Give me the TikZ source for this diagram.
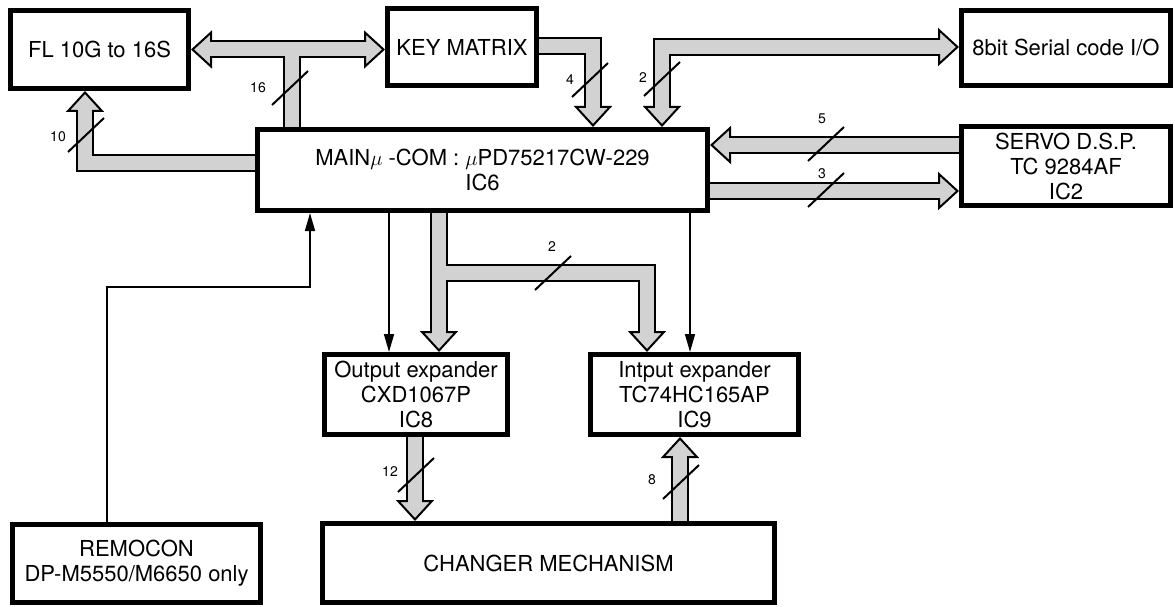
\documentclass[tikz,border=0pt]{standalone}
\usepackage{fontspec}
\setmainfont{TeX Gyre Heros}
\usetikzlibrary{arrows.meta,positioning}

\colorlet{busgray}{gray!35}
\tikzset{
  box/.style={draw, line width=5pt, align=center, inner sep=2pt, font=\fontsize{22}{25}\selectfont},
  lbl/.style={font=\fontsize{14}{16}\selectfont, inner sep=0pt},
  slash/.style={line width=2pt},
  thinarr/.style={line width=1.6pt, -{Triangle[length=18pt,width=10pt]}},
  bushead/.tip={Triangle[length=21pt,width=38pt,line width=2pt,fill=busgray]},
  busedge/.style={line width=18pt, black, line join=miter,
    tipE/.style={-{bushead}}, tipS/.style={{bushead}-}, tipSE/.style={{bushead}-{bushead}}},
  busfill/.style={line width=14pt, busgray, line join=miter,
    tipE/.style={shorten >=18pt}, tipS/.style={shorten <=18pt},
    tipSE/.style={shorten >=18pt, shorten <=18pt}},
}

% all bus routes, drawn once as edge and once as fill
\newcommand\buspaths{%
  \draw[tipSE] (fl.east) -- (fl.east -| key.west);
  \draw (fl.east -| c16) -- (c16 |- main.north);
  \draw[tipE] (main.west |- c10) -- (c10) -- (c10 |- fl.south);
  \draw[tipE] (key.east |- c4) -- (c4) -- (c4 |- main.north);
  \draw[tipSE] (c2 |- main.north) -- (c2) -- (ser.west |- c2);
  \draw[tipE] (servo.west |- c5) -- (main.east |- c5);
  \draw[tipE] (main.east |- c3) -- (servo.west |- c3);
  \draw[tipE] (cb |- main.south) -- (cb |- outx.north);
  \draw[tipE] (cb) -- (cb2) -- (cb2 |- inx.north);
  \draw[tipE] (c12 |- outx.south) -- (c12 |- chg.north);
  \draw[tipE] (c8 |- chg.north) -- (c8 |- inx.south);
}

\begin{document}
\begin{tikzpicture}[x=1pt,y=-1pt]
    \useasboundingbox (0,0) rectangle (1175,607);

    % Blocks
    \node[box, minimum width=178pt, minimum height=78pt] (fl) at (99.5,49.5) {FL 10G to 16S};
    \node[box, minimum width=149pt, minimum height=77pt] (key) at (462,47) {KEY MATRIX};
    \node[box, minimum width=209pt, minimum height=75pt] (ser) at (1066,48) {8bit Serial code I/O};
    \node[box, minimum width=450pt, minimum height=81pt] (main) at (482.5,170)
        {MAIN$\mu$ -COM : $\mu$PD75217CW-229\\IC6};
    \node[box, minimum width=209pt, minimum height=79pt] (servo) at (1066,166)
        {SERVO D.S.P.\\TC 9284AF\\IC2};
    \node[box, minimum width=183pt, minimum height=80pt] (outx) at (416,394.5)
        {Output expander\\CXD1067P\\IC8};
    \node[box, minimum width=208pt, minimum height=80pt] (inx) at (694.5,394.5)
        {Intput expander\\TC74HC165AP\\IC9};
    \node[box, minimum width=248pt, minimum height=78pt] (remo) at (136.5,563.5)
        {REMOCON\\DP-M5550/M6650 only};
    \node[box, minimum width=452pt, minimum height=79pt] (chg) at (548.5,563) {CHANGER MECHANISM};

    % Bus corners
    \coordinate (c16) at (292,49.5);
    \coordinate (c10) at (85,163);
    \coordinate (c4) at (593,46);
    \coordinate (c2) at (662,47);
    \coordinate (c5) at (0,145);
    \coordinate (c3) at (0,191);
    \coordinate (cb) at (439,273);
    \coordinate (cb2) at (647,273);
    \coordinate (c12) at (415,0);
    \coordinate (c8) at (680,0);

    % Buses
    \begin{scope}[busedge] \buspaths \end{scope}
    \begin{scope}[busfill] \buspaths \end{scope}

    % Bus widths
    \foreach \x/\y in {290/88, 86/135, 590/80, 662/79, 826/144, 826/190, 553/273, 416/475, 681/482} {
        \draw[slash] (\x,\y) +(-18,17) -- +(18,-17);
    }
    \node[lbl] (n16) at (258,88) {16};
    \node[lbl] (n10) at (58,137) {10};
    \node[lbl] (n4) at (570,80) {4};
    \node[lbl] (n2a) at (643,78) {2};
    \node[lbl] (n5) at (822,119) {5};
    \node[lbl] (n3) at (822,174) {3};
    \node[lbl] (n2b) at (552,247) {2};
    \node[lbl] (n12) at (390,472) {12};
    \node[lbl] (n8) at (652,480) {8};

    % Single lines
    \coordinate (t1) at (389,0);
    \coordinate (t2) at (690,0);
    \coordinate (r1) at (107,287);
    \coordinate (r2) at (310,287);
    \draw[thinarr] (t1 |- main.south) -- (t1 |- outx.north);
    \draw[thinarr] (t2 |- main.south) -- (t2 |- inx.north);
    \draw[thinarr] (remo.north -| r1) -- (r1) -- (r2) -- (r2 |- main.south);

\end{tikzpicture}
\end{document}
